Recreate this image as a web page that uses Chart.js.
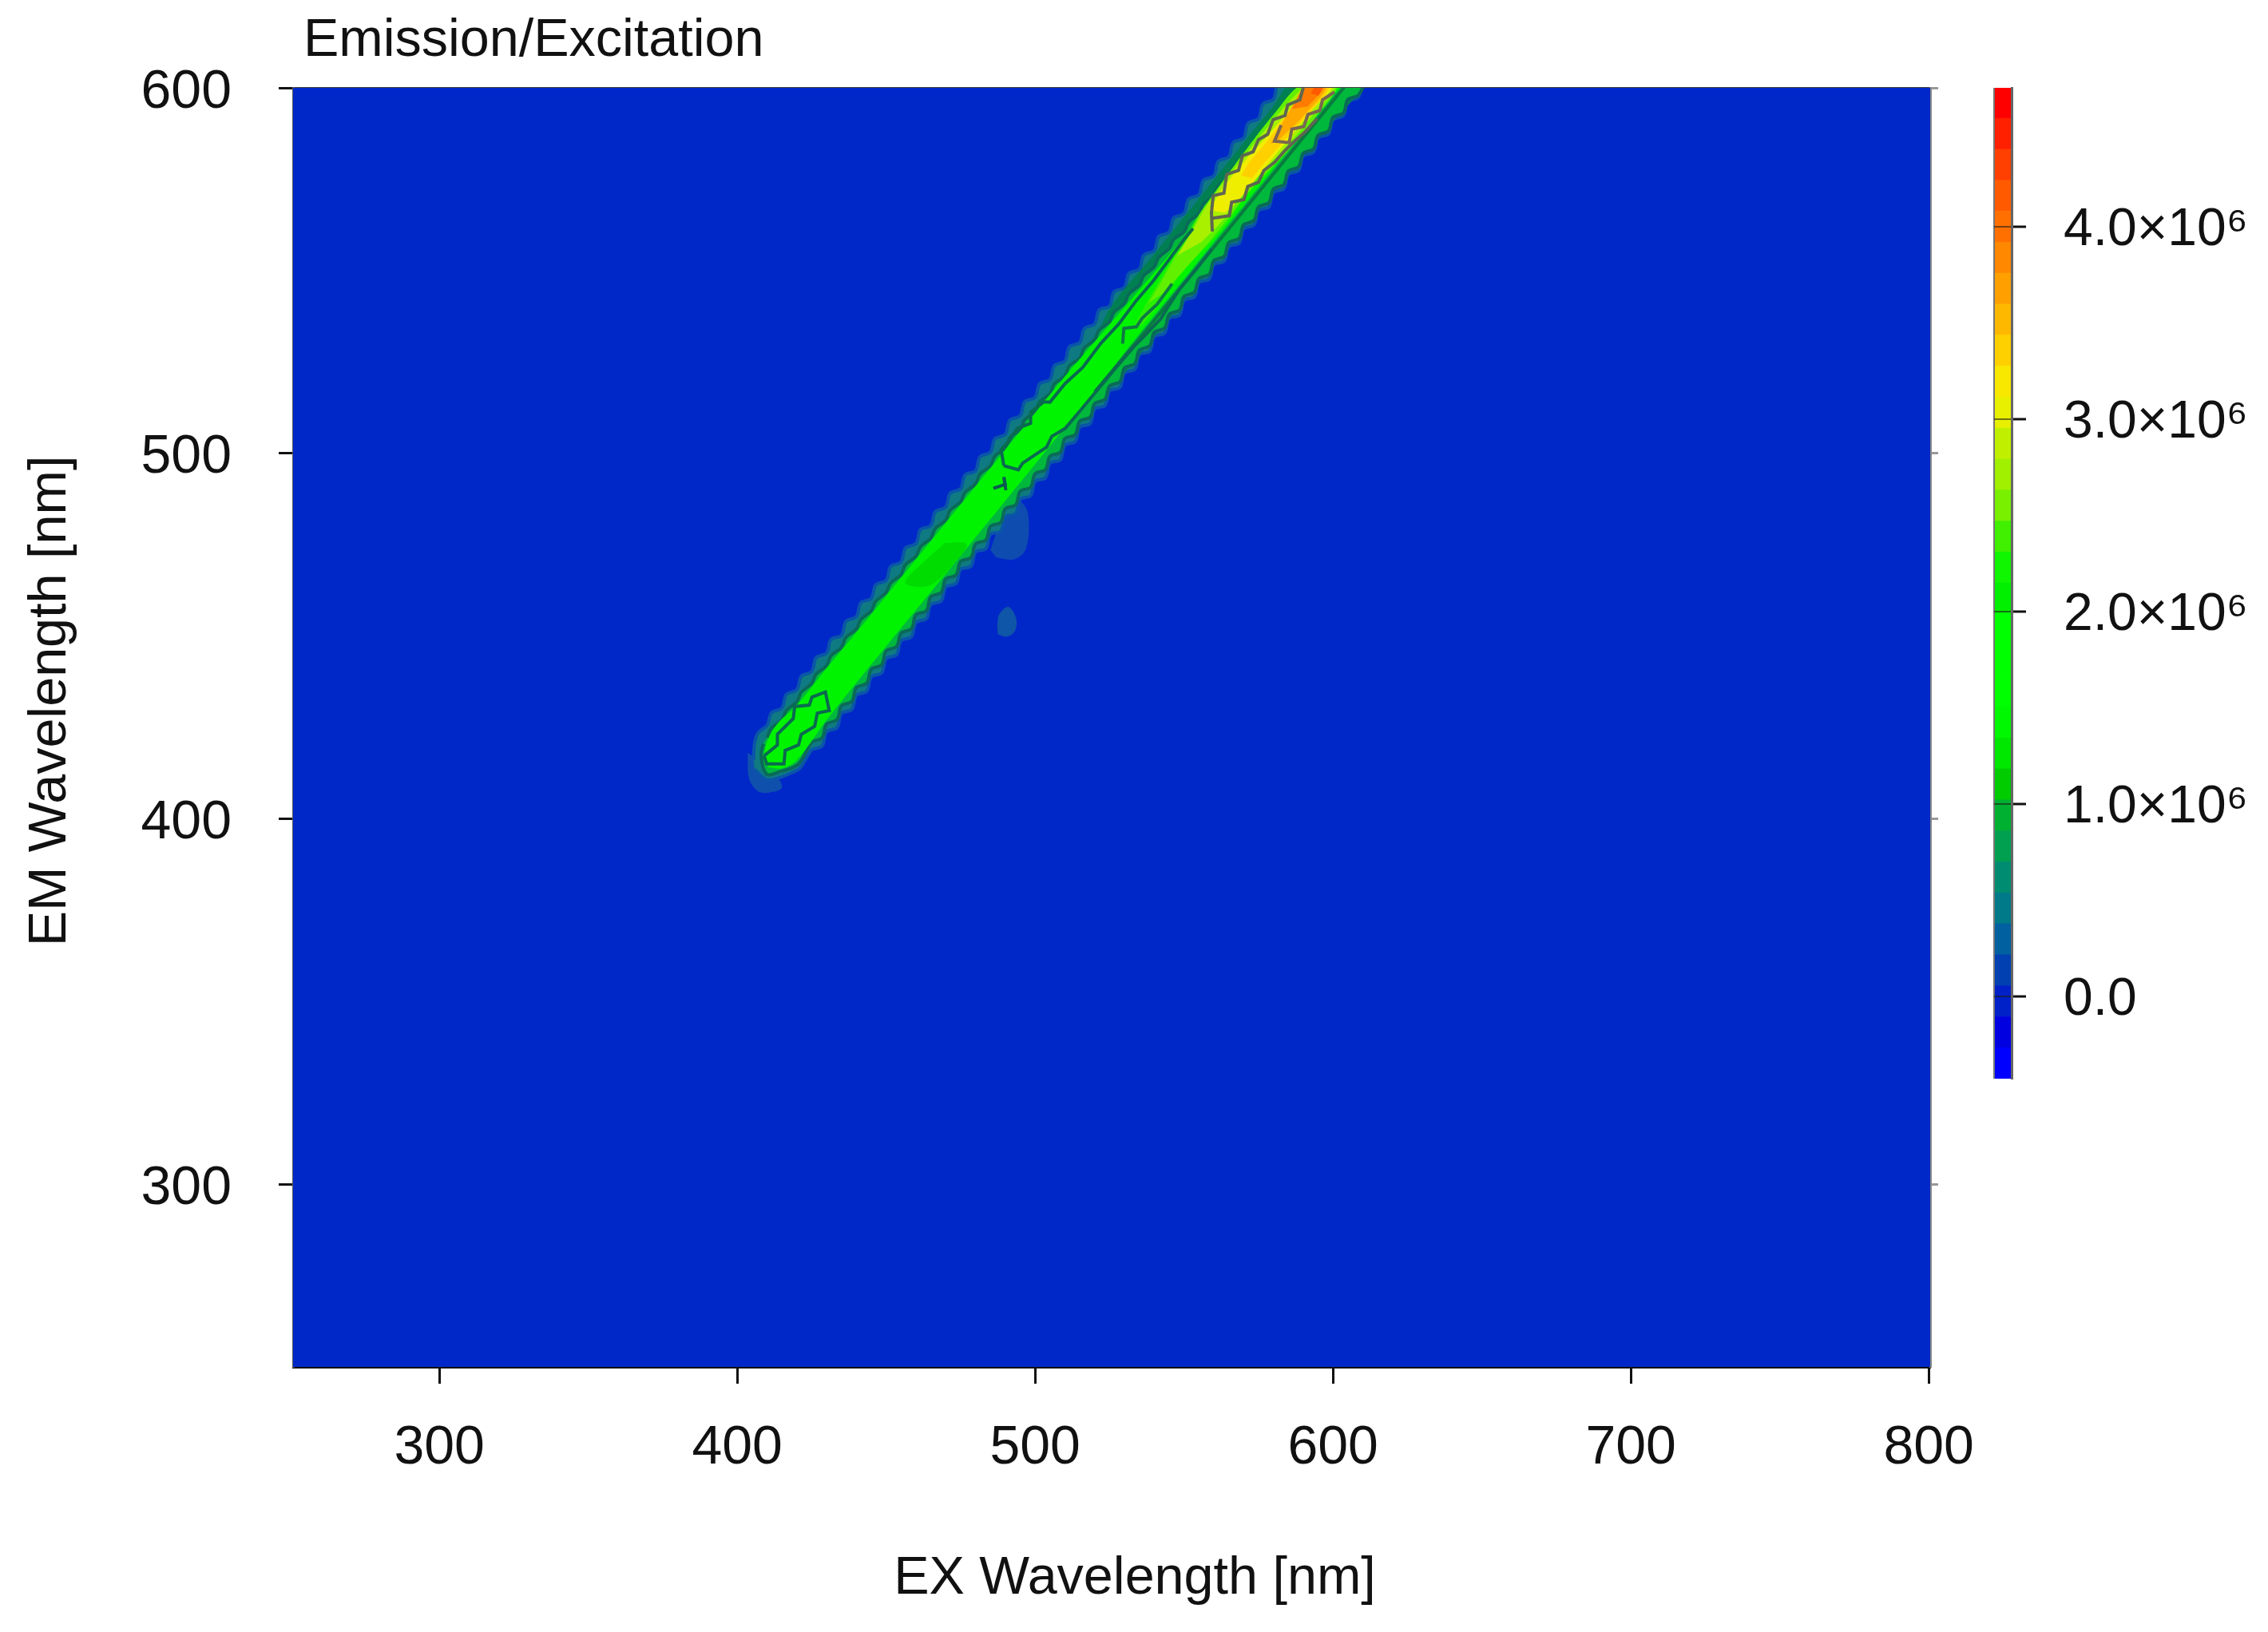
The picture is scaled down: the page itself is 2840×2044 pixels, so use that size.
<!DOCTYPE html>
<html>
<head>
<meta charset="utf-8">
<title>Emission/Excitation</title>
<script src="https://cdn.jsdelivr.net/npm/chart.js@4"></script>
<style>
  body { margin: 0; background: #fff; }
  canvas { position: absolute; left: 0; top: 0; filter: blur(0.7px); }
</style>
</head>
<body>
<canvas id="mapChart" width="2840" height="2044"></canvas>
<canvas id="barChart" width="2840" height="2044"></canvas>
<script>
var titleText = "Emission/Excitation";
var xTitle = "EX Wavelength [nm]";
var yTitle = "EM Wavelength [nm]";
var xTicks = [300, 400, 500, 600, 700, 800];
var yTicks = [300, 400, 500, 600];

// outer edge of the ridge (EX, EM in nm)
var outerUpEx = [405.5,405.8,407,410,411.5,415,416.5,420,421.5,425,426.5,430,431.5,435,436.5,440,441.5,445,446.5,450,451.5,455,456.5,460,461.5,465,466.5,470,471.5,475,476.5,480,481.5,485,486.5,490,491.5,495,496.5,500,501.5,505,506.5,510,511.5,515,516.5,520,521.5,525,526.5,530,531.5,535,536.5,540,541.5,545,546.5,550,551.5,555,556.5,560,561.5,565,566.5,570,571.5,575,576.5,580,581.5,585];
var outerUpEm = [416,420.5,423.5,425.5,429,430.3,434,435.3,439,440.3,444.1,445.3,449.1,450.2,454,455.3,459.1,460.3,464,465.2,469,470.3,474.1,475.3,479.1,480.2,484,485.3,489.1,490.3,494.1,495.2,499,500.3,504,505.2,509,510.3,514.1,515.3,519,520.2,524,525.3,529.1,530.3,534.1,535.4,539.2,540.3,544.2,545.4,549.2,550.4,554.2,555.5,559.3,560.5,564.4,565.6,569.5,570.8,574.7,575.9,579.9,581.1,585,586.3,590.3,591.6,595.6,596.9,601,602.2];
var outerLowEx = [405.8,409.9,414,418,421,425,428.5,430,433.5,435,438.5,440,443.5,445,448.5,450,453.5,455,458.5,460,463.5,465,468.5,470,473.5,475,478.5,480,483.5,485,488.5,490,493.5,495,498.5,500,503.5,505,508.5,510,513.5,515,518.5,520,523.5,525,528.5,530,533.5,535,538.5,540,543.5,545,548.5,550,553.5,555,558.5,560,563.5,565,568.5,570,573.5,575,578.5,580,583.5,585,588.5,590,593.5,595,598.5,600,603.5,605,608.5,610,613.5];
var outerLowEm = [413.5,410.7,411.2,412.5,413.8,418.8,419.9,423.8,424.9,428.8,429.9,433.8,434.9,438.8,439.9,443.8,444.9,448.7,449.8,453.7,454.7,458.6,459.6,463.4,464.4,468.2,469.1,473,473.9,477.8,478.7,482.6,483.5,487.4,488.4,492.3,493.3,497.3,498.2,502.2,503.2,507.2,508.1,512.1,513.1,517.1,518,522,523,527,527.9,531.9,532.9,536.9,537.8,541.8,542.8,546.7,547.7,551.6,552.6,556.5,557.5,561.4,562.5,566.4,567.4,571.3,572.4,576.3,577.4,581.3,582.4,586.3,587.4,591.2,592.4,596.2,597.4,601.2,602.4];

// first contour inside the teal ring
var lineUpEx = [410,411.5,415,416.5,420,421.5,425,426.5,430,431.5,435,436.5,440,441.5,445,446.5,450,451.5,455,456.5,460,461.5,465,466.5,470,471.5,475,476.5,480,481.5,485,486.5,490,491.5,495,496.5,500,501.5,505,506.5,510,511.5,515,516.5,520,521.5,525,526.5,530,531.5,535,536.5,540,541.5,545,546.5,550,551.5,555,556.5,560,561.5,565,566.5,570,571.5,575,576.5,580,581.5,585,586.5,590];
var lineUpEm = [422.2,424.8,427,429.6,432,434.6,437,439.6,441.9,444.6,446.9,449.6,451.9,454.5,456.9,459.5,461.9,464.5,466.8,469.5,471.8,474.4,476.8,479.4,481.7,484.4,486.7,489.3,491.6,494.3,496.6,499.2,501.5,504.2,506.5,509.1,511.4,514,516.3,519,521.2,523.9,526.1,528.8,531.1,533.7,536,538.6,541,543.6,546,548.6,551,553.6,556,558.5,560.6,563.2,565.6,568.2,570.6,573.2,575.7,578.2,580.8,583.3,585.9,588.4,591,593.4,596,598.5,601];
var lineLowEx = [408.8,408,409.9,414.4,420.6,425,428.5,430,433.5,435,438.5,440,443.5,445,448.5,450,453.5,455,458.5,460,463.5,465,468.5,470,473.5,475,478.5,480,483.5,485,488.5,490,493.5,495,498.5,500,503.5,505,508.5,510,513.5,515,518.5,520,523.5,525,528.5,530,533.5,535,538.5,540,543.5,545,548.5,550,553.5,555,558.5,560,563.5,565,568.5,570,573.5,575,578.5,580,583.5,585,588.5,590,593.5,595,598.5,600,603.5,605,608.5,610];
var lineLowEm = [420.5,417.2,412.2,412.9,415,420.9,422.1,425.9,427.1,430.9,432.1,435.9,437.1,440.9,442.1,445.9,447.1,450.8,452,455.8,456.9,460.7,461.9,465.6,466.7,470.4,471.5,475.2,476.3,480,481.1,484.8,485.9,489.6,490.7,494.4,495.5,499.2,500.3,504,505.1,508.8,509.9,513.6,514.8,518.4,519.6,523.3,524.5,528.2,529.4,533.1,534.3,538,539.2,542.9,544.1,547.8,549,552.7,553.9,557.6,558.8,562.5,563.7,567.4,568.6,572.3,573.5,577.2,578.4,582.1,583.3,587,588.2,591.9,593.1,596.8,598,601.7];

// darker green shoulder near the top of the ridge
var shadeUpEx = [520,525,540,555,570,580,587];
var shadeUpEm = [530,539.5,554.5,569.7,585,595,602];
var shadeLowEx = [524,530,560,590,612];
var shadeLowEm = [517,522,552,582,604];

// plain green body
var brightUpEx = [409,409.9,413.5,420,430,440,450,460,470,480,490,500,510,520,530,540,550,560,570,580,590,595];
var brightUpEm = [417.2,420.9,426,431,441.2,451,461,471,481,491,501,511,521,530.5,540,549.5,559,568.5,578,587.5,597,602];
var brightLowEx = [410.5,415,420,430,440,450,460,470,480,490,500,510,520,530,540,550,560,570,580,590,600,605];
var brightLowEm = [414,413.8,416,427,437.2,447.2,457.1,467,477,487,497,507,516.5,527.5,537.7,547.7,557.8,567.8,577.8,587.8,597.8,602.8];

// darker patch in the middle of the ridge
var patchEx = [469.8,477,472.5,464.5,456.4,463.6];
var patchEm = [475.5,475.1,469.7,463.8,464.6,471.1];

// colour regions around the peak, outermost first
var lime0Ex = [532.5,538.8,546.8,554.9,568.3,580.8,589.8,601.4,594.2,585.3,571.9,562.9,550.4,543.2,536.1];
var lime0Em = [533.7,543.2,554.1,565.1,580.3,593.4,601,601,592,583.2,571.6,561.4,550.5,542.5,535.2];
var limeEx = [537.9,542.3,546.8,551.3,554.9,559.3,568.3,580.8,589.8,601.4,594.2,585.3,571.9,565.6,558.4,550.4,543.2];
var limeEm = [541,546.9,553.4,558.5,565.1,570.2,580.3,593.4,601,601,592,583.2,571.6,565.1,557.8,550.5,543.9];
var chartEx = [547.7,553.1,558.4,580.8,588.9,590.7,600.5,593.4,584.4,571,562.9,555.8];
var chartEm = [554.1,561.4,568.7,592,599.3,600.4,600.4,592.7,584,572.3,563.6,557.8];
var yellowEx = [558.4,562.9,569.2,577.2,583.5,589.8,590.7,599.6,592.5,585.3,577.2,570.1,563.8];
var yellowEm = [566.5,572.3,578.9,586.2,592,599.3,600.4,600.4,593.4,586.2,578.2,570.9,565.8];
var goldEx = [569.2,571.9,577.2,583.5,588.9,590.2,598.7,590.7,584.4,577.2,572.8];
var goldEm = [576,579.6,584.7,591.6,598.2,600.4,600.4,592,586.2,579.6,575.2];
var amberEx = [579,583.1,588.4,590.2,597.8,589.8,585.3,581.3];
var amberEm = [584.7,590.5,597.8,600.4,600.4,592,588.4,585.4];
var orangeEx = [586.2,589.8,590.7,597,591.6];
var orangeEm = [594.2,600,600.4,600.4,594.9];
var redEx = [592.5,594.2,596.5,595.2];
var redEm = [598.5,600.4,600.4,597.8];

// faint spots next to the ridge
var spot1Ex = [403.5,404,407,411,415,413,408];
var spot1Em = [418,411,407.5,407.2,408.5,412,416];
var spot2Ex = [487,493,497,497.5,494,488,485];
var spot2Em = [471.5,471,474,484,487,480,473.5];
var spot3Ex = [487.5,490.5,493.3,493.6,491,488,487.3];
var spot3Em = [450.5,449.8,451.5,455,458,456,453];

// single contour lines
var tipLoopEx = [409,413.5,413.5,418.8,419.3,424.2,425.1,429.6,430.9,426.9,426,421.5,420.6,416.1,415.7,409.9,409];
var tipLoopEm = [417.2,420.2,423.1,427.4,430.7,431.1,433.3,434.7,429.6,428.9,425.3,423.1,420.2,418.7,415,415,417.2];
var midUpEx = [489.5,488.6,491,494,498.5,498.5,502.9,505,510,516,522,528,534,540,545,550,553];
var midUpEm = [496.6,501,503,506.8,508.2,511.2,514.1,514,519,523.5,530,535.3,541.8,547.5,553,558.5,561.5];
var midLowEx = [489.5,494.4,495.8,503.9,505.6,510.1,515.5,520.9,527.1,533.4,536.1,542.3,544.1,548.6,554,559.3];
var midLowEm = [496.6,495.5,497.3,501.7,504.6,506.8,512,517.3,523.4,529.4,531.6,536.9,539.4,545,550.3,555.8];
var markEx = [486,490,489.5,490.2];
var markEm = [490.4,491.5,493.5,489.9];
var stubEx = [529.4,529.8,534,536,541,546];
var stubEm = [530,534.2,534.6,537,540.8,546.4];
var peakUpEx = [559.5,559.2,559.8,563.4,564.3,568.3,569.6,573.2,575,578.1,579.9,583.9,584.8,588.9,590.2];
var peakUpEm = [560.7,565.8,570.5,571.2,576.3,577.4,581.4,582.5,585.8,587.3,591.3,592.4,595.3,596.7,600.6];
var peakLowEx = [559.2,565.2,566,570.1,571.4,575,576.8,580.4,583.5,586.2,590.7,594.7];
var peakLowEm = [564.3,565,568.7,569.4,573,574.2,577.4,579.6,582.5,584.7,588,591.6];
var innerEx = [582.6,580.4,585.3,586.2,590.2,591.6,595.6,596.5,600.5];
var innerEm = [589.8,585.4,585,588.7,589.4,592.7,593.8,596.7,598.9];
var stripeEx = [520,535,550,565,580,595,610];
var stripeEm = [516.8,531.4,546.4,561.4,576.4,591.4,606.4];

// colour bar
var barEdges = [-0.427,-0.266,-0.105,0.056,0.217,0.378,0.539,0.7,0.861,1.022,1.183,1.344,1.505,1.666,1.827,1.988,2.149,2.31,2.471,2.632,2.793,2.954,3.115,3.276,3.437,3.598,3.759,3.92,4.081,4.242,4.403,4.564,4.722];
var barColors = ["#0000ff","#0000e0","#0020c8","#0040b0","#0060a0","#007a88","#008c70","#00a050","#00b030","#00cc00","#00e800","#00f800","#00ff00","#00ff00","#00ff00","#00f000","#10f500","#40f000","#78f000","#a0f000","#c0f000","#e8f000","#f8e800","#ffd000","#ffb800","#ffa000","#ff8800","#ff7000","#ff5a00","#ff4000","#ff2000","#ff0000"];
var barTicks = [0, 1, 2, 3, 4];
var barLabels = ["0.0", "1.0×10⁶", "2.0×10⁶", "3.0×10⁶", "4.0×10⁶"];

var FONT = "'Liberation Sans', Arial, sans-serif";
var datasets = [];

function points(xs, ys) {
  return xs.map(function(x, i) { return { x: x, y: ys[i] }; });
}

function ring(upX, upY, lowX, lowY) {
  return points(upX, upY).concat(points(lowX, lowY).reverse());
}

function addArea(data, color, border, width, tension) {
  datasets.push({
    data: data,
    showLine: true,
    fill: "shape",
    backgroundColor: color,
    borderColor: border || color,
    borderWidth: width || 0,
    tension: tension === undefined ? 0.35 : tension,
    pointRadius: 0,
    order: -datasets.length
  });
}

function addLine(xs, ys, color, width) {
  datasets.push({
    data: points(xs, ys),
    showLine: true,
    fill: false,
    borderColor: color,
    borderWidth: width,
    tension: 0,
    pointRadius: 0,
    order: -datasets.length
  });
}

addArea(points(spot1Ex, spot1Em), "#0f50ac");
addArea(points(spot2Ex, spot2Em), "#0f4cb0");
addArea(points(spot3Ex, spot3Em), "#0f56a8");
addArea(ring(outerUpEx, outerUpEm, outerLowEx, outerLowEm), "#0f7a82", "#0a55a8", 4);
addArea(ring(shadeUpEx, shadeUpEm, shadeLowEx, shadeLowEm), "#007f52");
addArea(ring(lineUpEx, lineUpEm, lineLowEx, lineLowEm), "#00b83c", "#0a6a58", 4);
addArea(ring(brightUpEx, brightUpEm, brightLowEx, brightLowEm), "#00f400");
addArea(points(patchEx, patchEm), "#00dc00");
addArea(points(lime0Ex, lime0Em), "#28f000");
addArea(points(limeEx, limeEm), "#60f000");
addArea(points(chartEx, chartEm), "#a8f000");
addArea(points(yellowEx, yellowEm), "#f0ee00");
addArea(points(goldEx, goldEm), "#ffd000");
addArea(points(amberEx, amberEm), "#ffa800");
addArea(points(orangeEx, orangeEm), "#ff7c00");
addArea(points(redEx, redEm), "#ff5a00");
addLine(stripeEx, stripeEm, "#0a7a40", 4);
addLine(tipLoopEx, tipLoopEm, "#0a6a50", 4);
addLine(midUpEx, midUpEm, "#0a6a50", 4);
addLine(midLowEx, midLowEm, "#0a6a50", 4);
addLine(markEx, markEm, "#0a5a50", 4);
addLine(stubEx, stubEm, "#0f7a45", 4);
addLine(peakUpEx, peakUpEm, "#5f6650", 4);
addLine(peakLowEx, peakLowEm, "#5f6650", 4);
addLine(innerEx, innerEm, "#7a6650", 4);

function setTicks(list) {
  return function(scale) {
    scale.ticks = list.map(function(v) { return { value: v }; });
  };
}

function fixSize(prop, size) {
  return function(scale) { scale[prop] = size; };
}

var plotBack = {
  id: "plotBack",
  beforeDatasetsDraw: function(chart) {
    var a = chart.chartArea;
    chart.ctx.save();
    chart.ctx.fillStyle = "#0028c8";
    chart.ctx.fillRect(a.left, a.top, a.right - a.left, a.bottom - a.top);
    chart.ctx.restore();
  }
};

var plotText = {
  id: "plotText",
  afterDraw: function(chart) {
    var ctx = chart.ctx;
    ctx.save();
    ctx.fillStyle = "#111";
    ctx.font = "66.5px " + FONT;
    ctx.textBaseline = "middle";
    ctx.textAlign = "left";
    ctx.fillText(titleText, 380, 52);
    ctx.textAlign = "center";
    ctx.fillText(xTitle, 1421, 1978);
    ctx.translate(64, 878);
    ctx.rotate(-Math.PI / 2);
    ctx.fillText(yTitle, 0, 0);
    ctx.restore();
  }
};

var barEdge = {
  id: "barEdge",
  afterDatasetsDraw: function(chart) {
    var a = chart.chartArea;
    chart.ctx.save();
    chart.ctx.strokeStyle = "#777";
    chart.ctx.lineWidth = 2;
    chart.ctx.beginPath();
    chart.ctx.moveTo(a.left, a.top);
    chart.ctx.lineTo(a.left, a.bottom);
    chart.ctx.stroke();
    chart.ctx.restore();
  }
};

new Chart(document.getElementById("mapChart"), {
  type: "scatter",
  data: { datasets: datasets },
  plugins: [plotBack, plotText],
  options: {
    responsive: false,
    animation: false,
    devicePixelRatio: 1,
    layout: { padding: 0 },
    plugins: { legend: { display: false }, tooltip: { enabled: false } },
    scales: {
      x: {
        type: "linear", position: "bottom", min: 250.9, max: 800.5,
        afterBuildTicks: setTicks(xTicks),
        afterFit: fixSize("height", 332),
        border: { color: "#111", width: 3 },
        grid: { drawOnChartArea: false, tickLength: 21, tickColor: "#111", tickWidth: 3 },
        ticks: { autoSkip: false, maxRotation: 0, padding: 40, color: "#111", font: { family: FONT, size: 68 } }
      },
      top: {
        type: "linear", position: "top", min: 250.9, max: 800.5,
        afterBuildTicks: setTicks([250.9]),
        afterFit: fixSize("height", 110),
        border: { color: "#444", width: 3 },
        grid: { drawOnChartArea: false, drawTicks: false },
        ticks: { display: false }
      },
      y: {
        type: "linear", position: "left", min: 250, max: 600,
        afterBuildTicks: setTicks(yTicks),
        afterFit: fixSize("width", 367),
        border: { color: "#5a5a5a", width: 3 },
        grid: { drawOnChartArea: false, tickLength: 18, tickColor: "#111", tickWidth: 3 },
        ticks: { autoSkip: false, padding: 59, labelOffset: 6, color: "#111", font: { family: FONT, size: 68 } }
      },
      right: {
        type: "linear", position: "right", min: 250, max: 600,
        afterBuildTicks: setTicks(yTicks),
        afterFit: fixSize("width", 423),
        border: { color: "#8a8a8a", width: 3 },
        grid: { drawOnChartArea: false, tickLength: 10, tickColor: "#999", tickWidth: 3 },
        ticks: { display: false }
      }
    }
  }
});

var barSets = barColors.map(function(c, i) {
  return {
    data: [[barEdges[i], barEdges[i + 1]]],
    backgroundColor: c,
    borderWidth: 0,
    grouped: false,
    barPercentage: 1,
    categoryPercentage: 1
  };
});

new Chart(document.getElementById("barChart"), {
  type: "bar",
  data: { labels: [""], datasets: barSets },
  plugins: [barEdge],
  options: {
    responsive: false,
    animation: false,
    devicePixelRatio: 1,
    layout: { padding: { left: 2497, top: 110, bottom: 693 } },
    plugins: { legend: { display: false }, tooltip: { enabled: false } },
    scales: {
      x: { display: false },
      y: {
        type: "linear", position: "right", min: -0.427, max: 4.722,
        afterBuildTicks: setTicks(barTicks),
        afterFit: fixSize("width", 321),
        border: { color: "#666", width: 3, z: 2 },
        grid: { z: 1, color: "rgba(30,30,20,0.6)", lineWidth: 2, tickLength: 18, tickColor: "#111", tickWidth: 3 },
        ticks: {
          autoSkip: false, padding: 47, labelOffset: 5, color: "#111", font: { family: FONT, size: 66 },
          callback: function(v) { return barLabels[barTicks.indexOf(v)]; }
        }
      }
    }
  }
});
</script>
</body>
</html>
